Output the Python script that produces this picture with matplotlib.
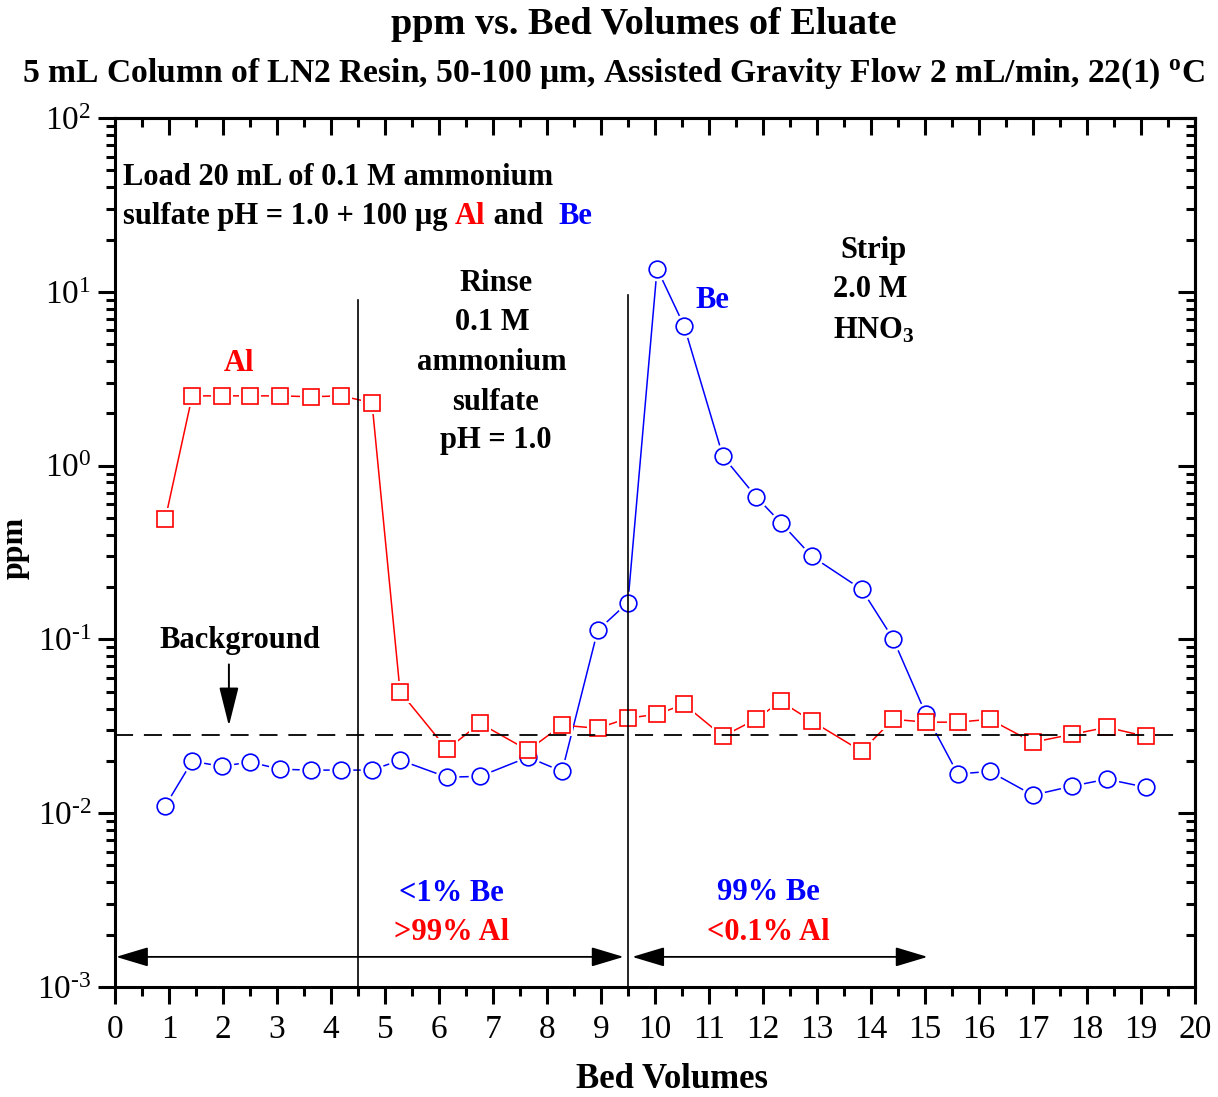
import matplotlib
matplotlib.use("Agg")
import matplotlib.pyplot as plt
from matplotlib.ticker import FixedLocator, FixedFormatter, LogLocator, NullFormatter, MultipleLocator

plt.rcParams['font.family'] = ['Liberation Serif', 'DejaVu Serif']
plt.rcParams['mathtext.fontset'] = 'custom'
plt.rcParams['mathtext.rm'] = 'Liberation Serif'
plt.rcParams['mathtext.bf'] = 'Liberation Serif:bold'
plt.rcParams['mathtext.it'] = 'Liberation Serif:italic'

# ---- data ----
bed_volumes = [0.93, 1.43, 1.98, 2.50, 3.06, 3.63, 4.19, 4.76, 5.28, 6.15,
               6.76, 7.65, 8.28, 8.94, 9.50, 10.04, 10.54, 11.26, 11.87, 12.33,
               12.91, 13.83, 14.41, 15.02, 15.61, 16.20, 17.00, 17.72, 18.37, 19.09]
al_ppm = [0.49, 2.52, 2.52, 2.52, 2.52, 2.49, 2.52, 2.30, 0.050, 0.0233,
          0.0329, 0.0230, 0.0321, 0.0308, 0.0352, 0.0371, 0.0423, 0.0277, 0.0347, 0.0440,
          0.0338, 0.0227, 0.0347, 0.0334, 0.0334, 0.0347, 0.0256, 0.0284, 0.0312, 0.0277]
be_ppm = [0.0110, 0.0199, 0.0186, 0.0197, 0.0179, 0.0177, 0.0177, 0.0177, 0.0202, 0.0161,
          0.0163, 0.0210, 0.0174, 0.1127, 0.163, 13.6, 6.38, 1.13, 0.664, 0.470,
          0.300, 0.194, 0.101, 0.0371, 0.0168, 0.0174, 0.0127, 0.0143, 0.0157, 0.0141]
background_ppm = 0.028
phase_boundaries = [4.5, 9.5]
phase_line_tops = [9.0, 9.6]
x_ticks = list(range(0, 21))
y_ticks = [1e-3, 1e-2, 1e-1, 1e0, 1e1, 1e2]
y_tick_labels = [r'$\mathregular{10^{\text{-}3}}$', r'$\mathregular{10^{\text{-}2}}$',
                 r'$\mathregular{10^{\text{-}1}}$', r'$\mathregular{10^{0}}$',
                 r'$\mathregular{10^{1}}$', r'$\mathregular{10^{2}}$']

RED = '#ff0000'
BLUE = '#0000ff'

fig = plt.figure(figsize=(12.18, 10.97), dpi=100)
ax = fig.add_axes([0.0944, 0.1003, 0.8866, 0.7921])
ax.set_yscale('log')
ax.set_xlim(0, 20)
ax.set_ylim(1e-3, 1e2)

def series(x, y, color, marker, ms):
    ax.plot(x, y, '-', color=color, lw=1.1, zorder=2)
    ax.plot(x, y, ls='none', marker=marker, ms=ms + 5, mfc='white', mec='white', mew=0, zorder=2.1)
    ax.plot(x, y, ls='none', marker=marker, ms=ms, mfc='white', mec=color, mew=1.2, zorder=2.2)

series(bed_volumes, be_ppm, BLUE, 'o', 12)
series(bed_volumes, al_ppm, RED, 's', 11)

# background line
ax.axhline(background_ppm, xmin=0, xmax=0.985, color='black', ls=(0, (10, 6)), lw=1.3, zorder=3)

# phase boundaries
for xb, top in zip(phase_boundaries, phase_line_tops):
    ax.plot([xb, xb], [1e-3, top], color='black', lw=1.2, zorder=3)

# ticks
ax.yaxis.set_major_locator(FixedLocator(y_ticks))
ax.yaxis.set_major_formatter(FixedFormatter(y_tick_labels))
ax.yaxis.set_minor_locator(LogLocator(base=10, subs=range(2, 10), numticks=20))
ax.yaxis.set_minor_formatter(NullFormatter())
ax.set_xticks(x_ticks)
ax.set_xticklabels([str(t) for t in x_ticks])
ax.xaxis.set_minor_locator(MultipleLocator(0.5))

for s in ax.spines.values():
    s.set_linewidth(2.2)

ax.tick_params(axis='both', which='major', length=12, width=2.2, labelsize=24)
ax.tick_params(axis='both', which='minor', length=6.5, width=2.2)
ax.tick_params(axis='x', which='both', direction='out', top=False, pad=8)
ax.tick_params(axis='y', which='both', direction='out', right=False, pad=5)

# inward ticks on top/right
axt = ax.secondary_xaxis('top')
axt.xaxis.set_major_locator(MultipleLocator(1))
axt.xaxis.set_minor_locator(MultipleLocator(0.5))
axt.tick_params(which='major', direction='in', length=12, width=2.2, labeltop=False)
axt.tick_params(which='minor', direction='in', length=6.5, width=2.2)
axt.spines['top'].set_linewidth(2.2)
axr = ax.secondary_yaxis('right')
axr.yaxis.set_major_locator(FixedLocator(y_ticks))
axr.yaxis.set_minor_locator(LogLocator(base=10, subs=range(2, 10), numticks=20))
axr.yaxis.set_minor_formatter(NullFormatter())
axr.tick_params(which='major', direction='in', length=12, width=2.2, labelright=False)
axr.tick_params(which='minor', direction='in', length=6.5, width=2.2)
axr.spines['right'].set_linewidth(2.2)

ax.set_xlabel('Bed Volumes', fontsize=25, fontweight='bold', labelpad=14)
ax.xaxis.set_label_coords(0.516, -0.087)
ax.set_ylabel('ppm', fontsize=23, fontweight='bold', labelpad=0)
ax.yaxis.set_label_coords(-0.079, 0.505)

fig.text(0.5287, 0.978, 'ppm vs. Bed Volumes of Eluate', ha='center', va='center',
         fontsize=27.5, fontweight='bold')
fig.text(0.5035, 0.933, r'5 mL Column of LN2 Resin, 50-100 $\mathregular{\mu}$m, Assisted Gravity Flow 2 mL/min, 22(1) $^{\mathbf{o}}$C',
         ha='center', va='center', fontsize=24.2, fontweight='bold')

fs = 22
tk = dict(fontsize=fs, fontweight='bold')
sh = 0.96  # small downward shift to match visual centres
ax.text(0.15, 47.6 * sh, 'Load 20 mL of 0.1 M ammonium', ha='left', va='center', **tk)
t1 = ax.text(0.15, 28.4 * sh, 'sulfate pH = 1.0 + 100 \u00b5g ', ha='left', va='center', **tk)
t2 = ax.annotate('Al', xy=(1, 0), xycoords=t1, ha='left', va='bottom', color=RED, **tk)
t3 = ax.annotate(' and  ', xy=(1, 0), xycoords=t2, ha='left', va='bottom', **tk)
ax.annotate('Be', xy=(1, 0), xycoords=t3, ha='left', va='bottom', color=BLUE, **tk)

ax.text(2.29, 4.01 * sh, 'Al', ha='center', va='center', color=RED, **tk)
ax.text(11.07, 9.24 * sh, 'Be', ha='center', va='center', color=BLUE, **tk)

for yy, s in zip([11.6, 6.9, 4.06, 2.39, 1.45], ['Rinse', '0.1 M', 'ammonium', 'sulfate', 'pH = 1.0']):
    ax.text(7.05 if s not in ('0.1 M', 'ammonium') else 6.98, yy * sh, s, ha='center', va='center', **tk)
ax.text(14.04, 18.1 * sh, 'Strip', ha='center', va='center', **tk)
ax.text(13.98, 10.8 * sh, '2.0 M', ha='center', va='center', **tk)
ax.text(14.05, 6.2 * sh, r'HNO$_{\mathbf{3}}$', ha='center', va='center', **tk)

ax.text(2.32, 0.1026 * sh, 'Background', ha='center', va='center', **tk)
ax.annotate('', xy=(2.11, 0.0318), xytext=(2.11, 0.0718),
            arrowprops=dict(arrowstyle='-|>,head_length=1.2,head_width=0.3', color='black', lw=1.4,
                            mutation_scale=20, shrinkA=0, shrinkB=0))

ax.text(6.23, 0.00361 * sh, '<1% Be', ha='center', va='center', color=BLUE, **tk)
ax.text(6.23, 0.00215 * sh, '>99% Al', ha='center', va='center', color=RED, **tk)
ax.text(12.1, 0.00366 * sh, '99% Be', ha='center', va='center', color=BLUE, **tk)
ax.text(12.1, 0.00215 * sh, '<0.1% Al', ha='center', va='center', color=RED, **tk)

arrow_y = 0.00149
ap = dict(arrowstyle='<|-|>,head_length=1.0,head_width=0.3', color='black', lw=1.3,
          mutation_scale=20, shrinkA=0, shrinkB=0)
ax.annotate('', xy=(0.02, arrow_y), xytext=(9.42, arrow_y), arrowprops=ap)
ax.annotate('', xy=(9.58, arrow_y), xytext=(15.05, arrow_y), arrowprops=ap)

fig.savefig('out.png', dpi=100)
